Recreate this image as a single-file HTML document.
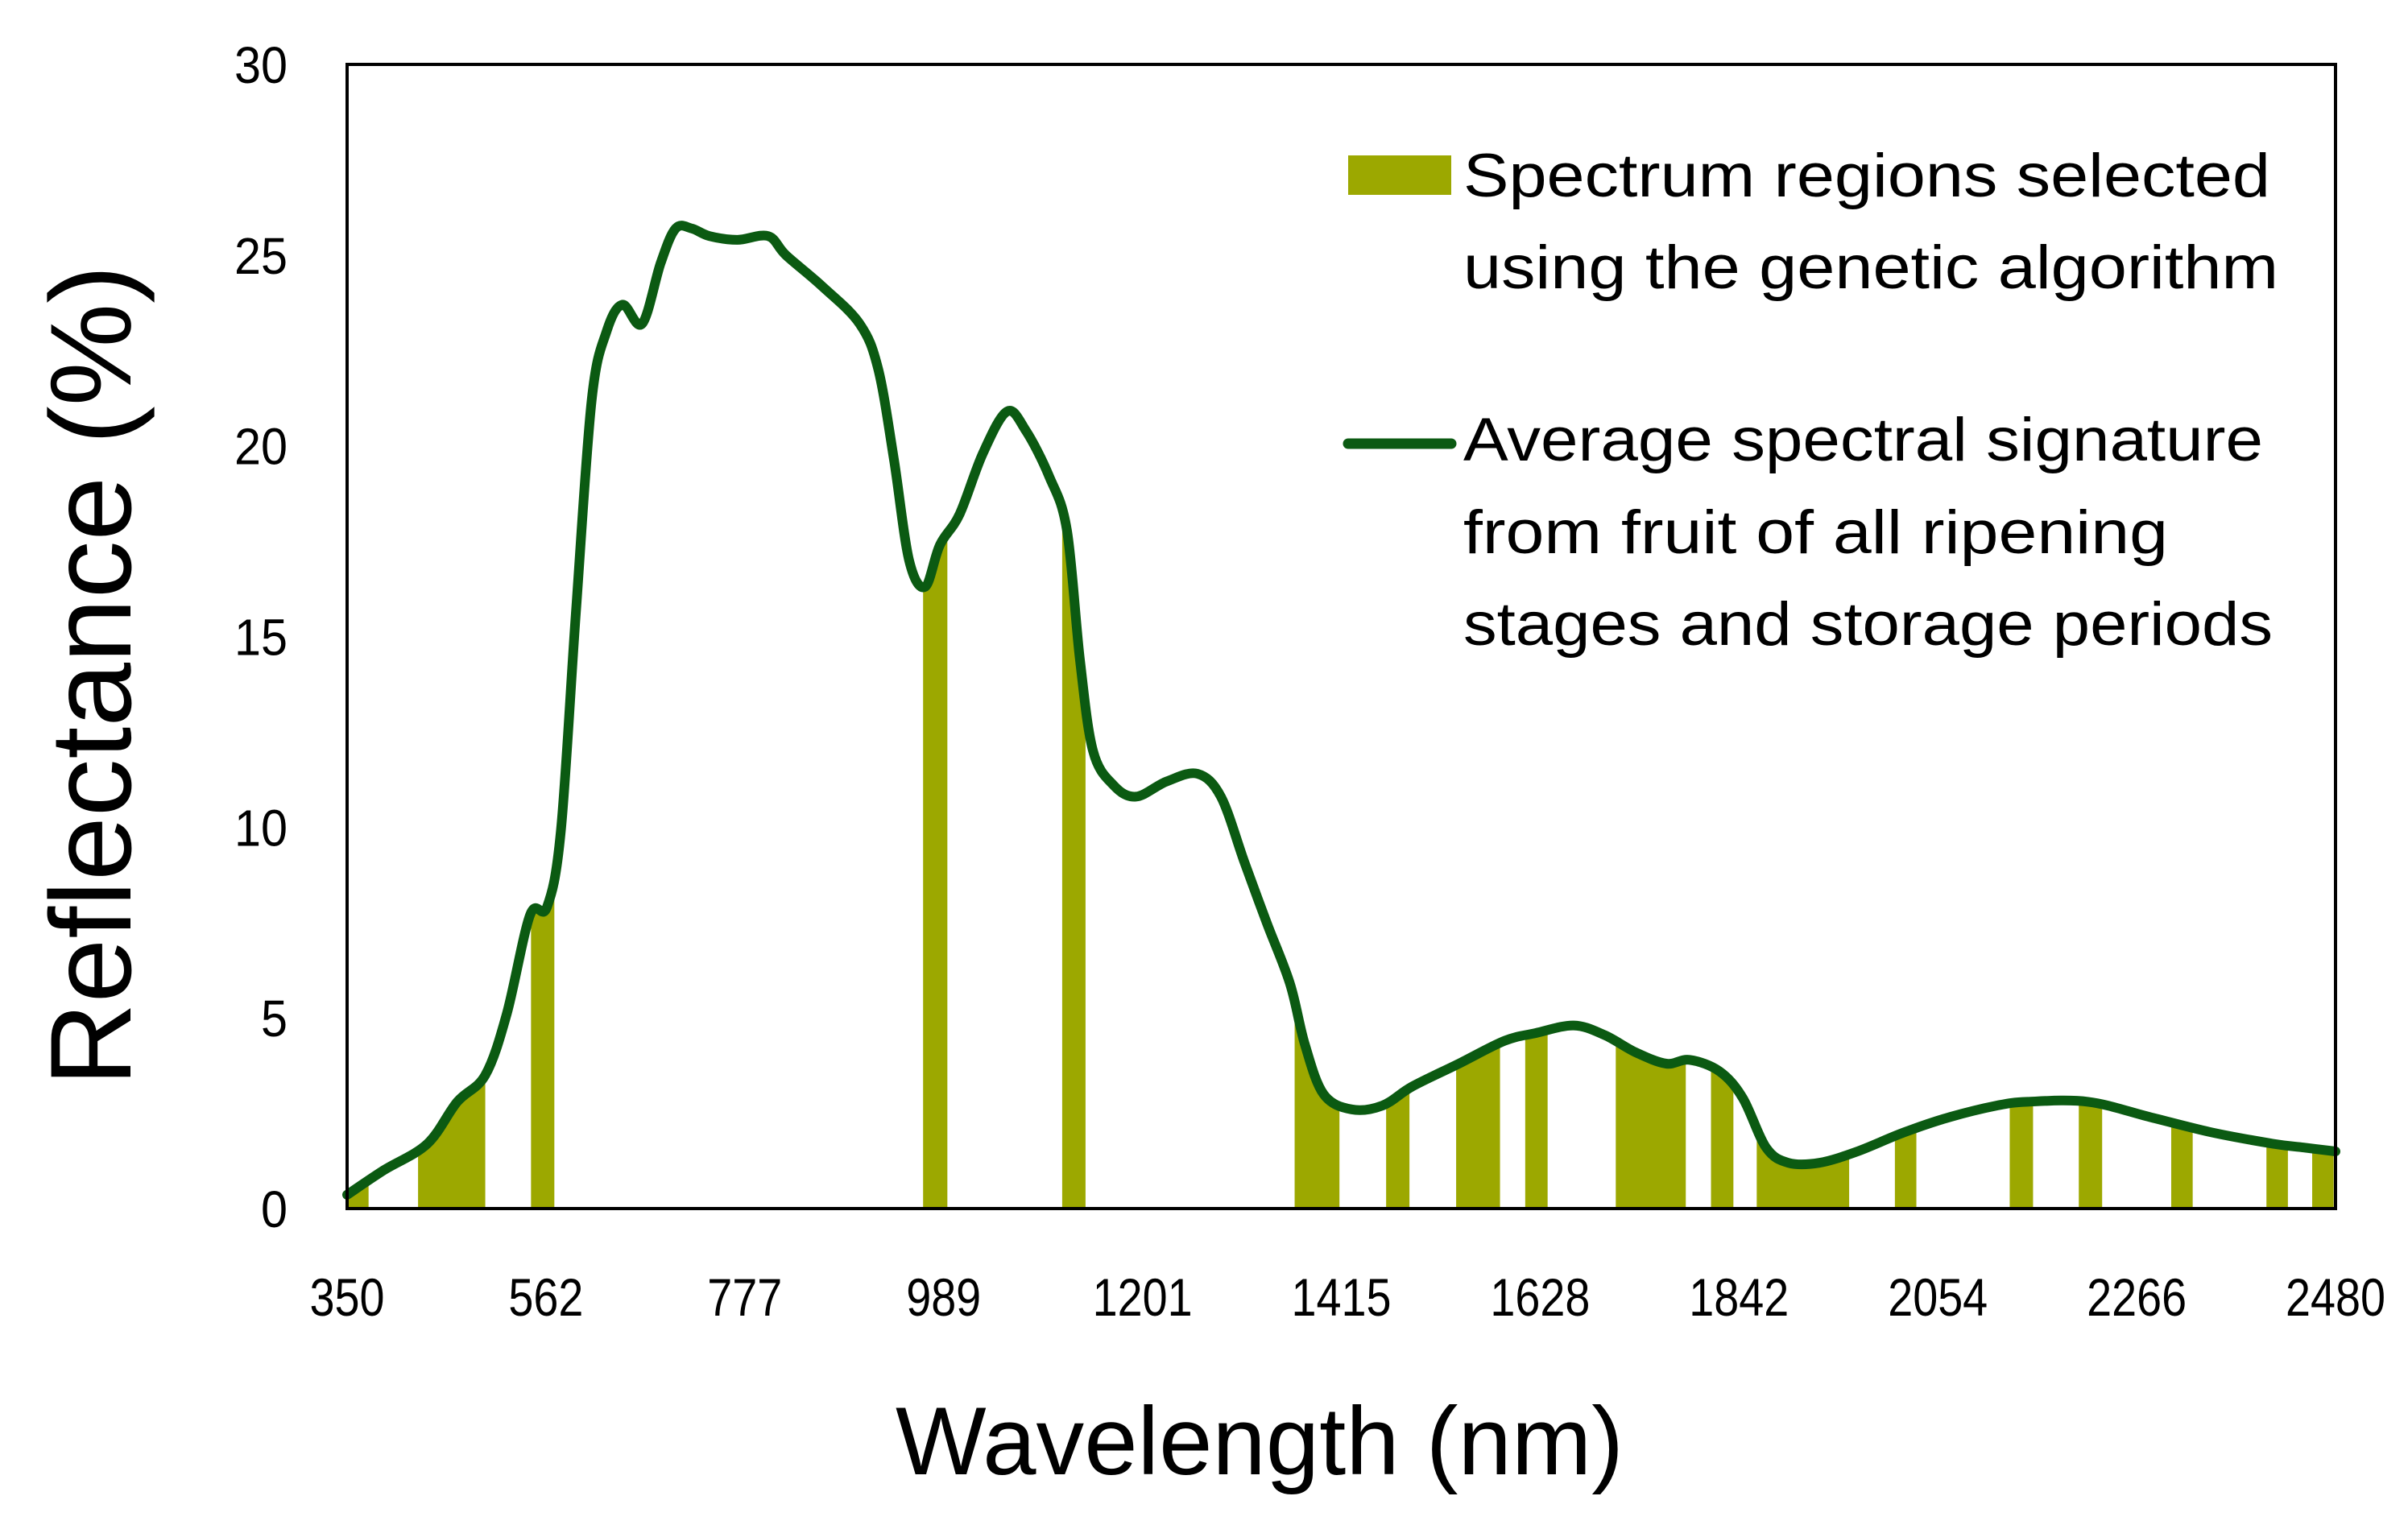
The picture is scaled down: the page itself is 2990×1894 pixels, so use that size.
<!DOCTYPE html>
<html><head><meta charset="utf-8">
<style>
html,body{margin:0;padding:0;background:#fff;}
svg{display:block;}
text{font-family:"Liberation Sans",Arial,sans-serif;fill:#000;}
</style></head>
<body>
<svg id="chart" width="2990" height="1894" viewBox="0 0 2990 1894" xmlns="http://www.w3.org/2000/svg">
  <defs><clipPath id="underCurve"><path id="clipArea" d=""/></clipPath></defs>
  <g id="bands" clip-path="url(#underCurve)"></g>
  <path id="curve" fill="none" stroke="#0b5a12" stroke-width="12" stroke-linejoin="round" stroke-linecap="round"/>
  <rect x="431" y="80" width="2469" height="1421" fill="none" stroke="#000" stroke-width="4"/>
  <g id="yticks"></g>
  <g id="xticks"></g>
  <text transform="translate(162,839) rotate(-90)" text-anchor="middle" font-size="143" textLength="1020" lengthAdjust="spacingAndGlyphs">Reflectance (%)</text>
  <text x="1564" y="1831" text-anchor="middle" font-size="120" textLength="904" lengthAdjust="spacingAndGlyphs">Wavelength (nm)</text>
  <g font-size="76">
    <rect x="1674" y="193" width="128" height="49" fill="#9ca800"/>
    <text x="1817" y="244" textLength="1002" lengthAdjust="spacingAndGlyphs">Spectrum regions selected</text>
    <text x="1817" y="358" textLength="1012" lengthAdjust="spacingAndGlyphs">using the genetic algorithm</text>
    <line x1="1674" y1="551" x2="1802" y2="551" stroke="#0b5a12" stroke-width="13" stroke-linecap="round"/>
    <text x="1817" y="572" textLength="993" lengthAdjust="spacingAndGlyphs">Average spectral signature</text>
    <text x="1817" y="687" textLength="875" lengthAdjust="spacingAndGlyphs">from fruit of all ripening</text>
    <text x="1817" y="801" textLength="1005" lengthAdjust="spacingAndGlyphs">stages and storage periods</text>
  </g>
</svg>
<script>
const wavelengths = [350,389,436,468,498,521,546,564,579,595,612,628,645,666,686,702,719,738,768,801,820,858,899,919,936,952,969,985,1006,1031,1057,1077,1102,1121,1135,1149,1171,1195,1228,1261,1286,1311,1335,1360,1376,1396,1426,1459,1491,1541,1590,1623,1664,1697,1730,1763,1788,1820,1845,1870,1894,1927,1968,2018,2067,2117,2150,2215,2281,2347,2413,2446,2480];
const reflectance = [0.36,1.0,1.7,2.8,3.5,5.1,7.7,7.9,9.9,15.6,21.2,23.0,23.7,23.2,24.8,25.7,25.7,25.5,25.4,25.5,25.0,24.2,23.2,22.0,19.6,17.0,16.3,17.4,18.2,19.8,20.9,20.4,19.2,17.8,14.4,12.0,11.1,10.8,11.2,11.4,10.8,9.1,7.5,5.9,4.3,3.0,2.6,2.7,3.2,3.8,4.4,4.6,4.8,4.55,4.1,3.8,3.9,3.6,2.9,1.6,1.2,1.2,1.5,2.0,2.4,2.7,2.8,2.8,2.4,2.0,1.7,1.6,1.5];
const bandStarts = [351,426,547,967,1116,1365,1463,1538,1612,1709,1811,1860,2008,2131,2205,2304,2406,2455];
const bandEnds   = [373,498,572,993,1141,1413,1488,1585,1636,1784,1835,1959,2031,2156,2230,2327,2429,2478];
const xTickLabels = ["350","562","777","989","1201","1415","1628","1842","2054","2266","2480"];
const yTickLabels = ["0","5","10","15","20","25","30"];

const X0=431,X1=2900,Y0=1501,Y1=80;
const xMin=350,xMax=2480,yMin=0,yMax=30;
function xs(v){return X0+(v-xMin)/(xMax-xMin)*(X1-X0);}
function ys(v){return Y0-(v-yMin)/(yMax-yMin)*(Y0-Y1);}
const NS="http://www.w3.org/2000/svg";

const P=wavelengths.map((w,i)=>[xs(w),ys(reflectance[i])]);
let d="M"+P[0][0].toFixed(1)+","+P[0][1].toFixed(1);
for(let i=0;i<P.length-1;i++){
  const p0=P[Math.max(0,i-1)],p1=P[i],p2=P[i+1],p3=P[Math.min(P.length-1,i+2)];
  const c1=[p1[0]+(p2[0]-p0[0])/6,p1[1]+(p2[1]-p0[1])/6];
  const c2=[p2[0]-(p3[0]-p1[0])/6,p2[1]-(p3[1]-p1[1])/6];
  d+="C"+c1[0].toFixed(1)+","+c1[1].toFixed(1)+" "+c2[0].toFixed(1)+","+c2[1].toFixed(1)+" "+p2[0].toFixed(1)+","+p2[1].toFixed(1);
}
document.getElementById('curve').setAttribute('d',d);
document.getElementById('clipArea').setAttribute('d',d+"L"+xs(wavelengths[wavelengths.length-1])+","+Y0+"L"+xs(wavelengths[0])+","+Y0+"Z");

const bg=document.getElementById('bands');
bandStarts.forEach((s,i)=>{
  const r=document.createElementNS(NS,'rect');
  r.setAttribute('x',xs(s));r.setAttribute('width',xs(bandEnds[i])-xs(s));
  r.setAttribute('y',Y1);r.setAttribute('height',Y0-Y1);
  r.setAttribute('fill','#9ca800');
  
  
  bg.appendChild(r);
});

const xt=document.getElementById('xticks');
xTickLabels.forEach((l,i)=>{
  const t=document.createElementNS(NS,'text');
  const v=xMin+i*(xMax-xMin)/(xTickLabels.length-1);
  t.setAttribute('x',xs(v));t.setAttribute('y',1634);
  t.setAttribute('text-anchor','middle');t.setAttribute('font-size','66');
  t.setAttribute('textLength',l.length*31);t.setAttribute('lengthAdjust','spacingAndGlyphs');
  t.textContent=l;
  
  
  xt.appendChild(t);
});
const yt=document.getElementById('yticks');
yTickLabels.forEach((l)=>{
  const t=document.createElementNS(NS,'text');
  t.setAttribute('x',357);t.setAttribute('y',ys(+l)+23);
  t.setAttribute('text-anchor','end');t.setAttribute('font-size','64');
  t.setAttribute('textLength',l.length*33);t.setAttribute('lengthAdjust','spacingAndGlyphs');
  t.textContent=l;
  
  
  yt.appendChild(t);
});
</script>
</body></html>
